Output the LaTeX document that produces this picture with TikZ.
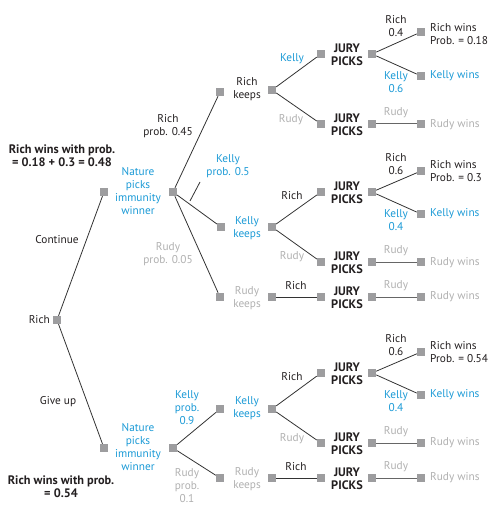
\documentclass[tikz,border=0pt]{standalone}
\usepackage{fontspec}
\setmainfont{PT Sans}
\definecolor{dk}{HTML}{231F20}
\definecolor{bl}{HTML}{1B9AD6}
\definecolor{gy}{HTML}{B0B0B0}
\definecolor{sqc}{HTML}{9D9D9F}
\definecolor{ln}{HTML}{333333}
\begin{document}
\begin{tikzpicture}[x=1pt,y=-1pt,
  sq/.style={fill=sqc,draw=none,minimum size=8pt,inner sep=0pt},
  tx/.style={inner sep=0pt,align=center,font=\fontsize{11.3}{13}\selectfont,text=dk},
  txl/.style={tx,anchor=west,align=left},
  bx/.style={tx,font=\fontsize{12.3}{13}\selectfont\bfseries},
  blt/.style={text=bl},
  gyt/.style={text=gy},
  edge/.style={draw=ln,line width=0.8pt},
  gedge/.style={draw=black!60,line width=1pt}]
\useasboundingbox (0,0) rectangle (498,521);

% ---- left part
\node[sq] (root) at (57,320) {};
\node[tx,anchor=east] (rootl) at (50,320) {Rich};
\node[sq] (c) at (104,192) {};
\node[sq] (g) at (104,448) {};
\draw[edge] (root) -- (c);
\draw[edge] (root) -- (g);
\node[tx] (cl) at (57,240) {Continue};
\node[tx] (gl) at (58,402) {Give up};
\node[bx] (rw1) at (62,155.5) {Rich wins with prob.\\= 0.18 + 0.3 = 0.48};
\node[bx] (rw2) at (61,486.5) {Rich wins with prob.\\= 0.54};

\node[tx,blt] (nat1) at (138,191.5) {Nature\\picks\\immunity\\winner};
\node[tx,blt] (nat2) at (138,447) {Nature\\picks\\immunity\\winner};
\node[sq] (n1) at (173,192) {};
\node[sq] (n2) at (173,448) {};

% ---- keeps nodes
\node[sq] (rk1) at (220,92) {};
\node[sq] (rk2) at (272,90) {};
\node[tx] (rkl) at (247,89.5) {Rich\\keeps};
\node[sq] (kk1) at (221,227) {};
\node[sq] (kk2) at (272,227) {};
\node[tx,blt] (kkl) at (247,228.5) {Kelly\\keeps};
\node[sq] (uk1) at (220,297) {};
\node[sq] (uk2) at (272,297) {};
\node[tx,gyt] (ukl) at (247,298.5) {Rudy\\keeps};
\node[sq] (kk3) at (220,409) {};
\node[sq] (kk4) at (272,409) {};
\node[tx,blt] (kkl2) at (247,408.5) {Kelly\\keeps};
\node[sq] (uk3) at (220,478) {};
\node[sq] (uk4) at (272,478) {};
\node[tx,gyt] (ukl2) at (247,479.5) {Rudy\\keeps};

\draw[edge] (n1) -- (rk1);
\draw[edge] (n1) -- (kk1);
\draw[edge] (n1) -- (uk1);
\draw[edge] (n2) -- (kk3);
\draw[edge] (n2) -- (uk3);

\node[tx] (p1) at (168,126.5) {Rich\\prob. 0.45};
\node[tx,blt] (p2) at (228,166.5) {Kelly\\prob. 0.5};
\coordinate (kp1) at (190,201);
\coordinate (kp2) at (200,182);
\draw[edge] (kp1) -- (kp2);
\node[tx,gyt] (p3) at (168,254.5) {Rudy\\prob. 0.05};
\node[tx,blt] (p4) at (187,408) {Kelly\\prob.\\0.9};
\node[tx,gyt] (p5) at (187,486) {Rudy\\prob.\\0.1};

% ---- jury nodes
\foreach \n/\y in {A/54, B/124, C/192, D/262, E/297, F/373, G/443, H/478}{
  \node[sq] (JL\n) at (321,\y) {};
  \node[sq] (JR\n) at (372,\y) {};
  \node[bx] (JT\n) at (347,\y+1) {JURY\\PICKS};
}
\draw[edge] (rk2) -- (JLA);
\draw[edge] (rk2) -- (JLB);
\draw[edge] (kk2) -- (JLC);
\draw[edge] (kk2) -- (JLD);
\draw[edge] (uk2) -- (JLE);
\draw[edge] (kk4) -- (JLF);
\draw[edge] (kk4) -- (JLG);
\draw[edge] (uk4) -- (JLH);

\node[tx,blt] (bA) at (292,59) {Kelly};
\node[tx,gyt] (bB) at (291,120) {Rudy};
\node[tx] (bC) at (292,196) {Rich};
\node[tx,gyt] (bD) at (292,257) {Rudy};
\node[tx] (bE) at (296,286) {Rich};
\node[tx] (bF) at (292,377) {Rich};
\node[tx,gyt] (bG) at (292,439) {Rudy};
\node[tx] (bH) at (296,467) {Rich};

% ---- outcomes
\node[sq] (oA1) at (421,32) {};
\node[sq] (oA2) at (421,76) {};
\node[sq] (oB) at (421,124) {};
\node[sq] (oC1) at (421,171) {};
\node[sq] (oC2) at (421,214) {};
\node[sq] (oD) at (421,262) {};
\node[sq] (oE) at (421,297) {};
\node[sq] (oF1) at (421,352) {};
\node[sq] (oF2) at (421,395) {};
\node[sq] (oG) at (421,443) {};
\node[sq] (oH) at (421,478) {};

\draw[edge] (JRA) -- (oA1);
\draw[edge] (JRA) -- (oA2);
\draw[gedge] (JRB) -- (oB);
\draw[edge] (JRC) -- (oC1);
\draw[edge] (JRC) -- (oC2);
\draw[gedge] (JRD) -- (oD);
\draw[gedge] (JRE) -- (oE);
\draw[edge] (JRF) -- (oF1);
\draw[edge] (JRF) -- (oF2);
\draw[gedge] (JRG) -- (oG);
\draw[gedge] (JRH) -- (oH);

\node[tx] (jA1) at (396,26.5) {Rich\\0.4};
\node[tx,blt] (jA2) at (396,82.5) {Kelly\\0.6};
\node[tx,gyt] (jB) at (396,113) {Rudy};
\node[tx] (jC1) at (396,164.5) {Rich\\0.6};
\node[tx,blt] (jC2) at (396,220.5) {Kelly\\0.4};
\node[tx,gyt] (jD) at (396,251) {Rudy};
\node[tx,gyt] (jE) at (396,286) {Rudy};
\node[tx] (jF1) at (396,345.5) {Rich\\0.6};
\node[tx,blt] (jF2) at (396,401.5) {Kelly\\0.4};
\node[tx,gyt] (jG) at (396,432) {Rudy};
\node[tx,gyt] (jH) at (396,467) {Rudy};

\node[txl] (tA1) at (430,34.5) {Rich wins\\Prob. = 0.18};
\node[txl,blt] (tA2) at (430,76) {Kelly wins};
\node[txl,gyt] (tB) at (430,125) {Rudy wins};
\node[txl] (tC1) at (430,171.5) {Rich wins\\Prob. = 0.3};
\node[txl,blt] (tC2) at (430,214) {Kelly wins};
\node[txl,gyt] (tD) at (430,263) {Rudy wins};
\node[txl,gyt] (tE) at (430,297) {Rudy wins};
\node[txl] (tF1) at (430,352.5) {Rich wins\\Prob. = 0.54};
\node[txl,blt] (tF2) at (430,395) {Kelly wins};
\node[txl,gyt] (tG) at (430,443) {Rudy wins};
\node[txl,gyt] (tH) at (430,478) {Rudy wins};
\end{tikzpicture}
\end{document}
